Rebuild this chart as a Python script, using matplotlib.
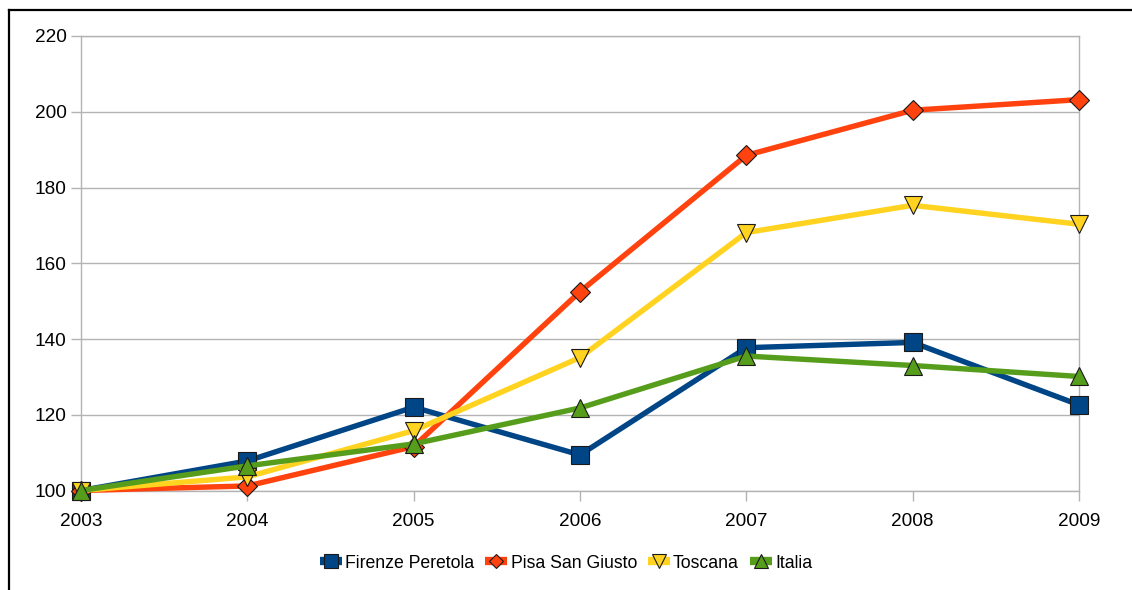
import matplotlib.pyplot as plt
from matplotlib.lines import Line2D

plt.rcParams['font.family'] = ['Liberation Sans', 'DejaVu Sans']

years = [2003, 2004, 2005, 2006, 2007, 2008, 2009]
firenze = [100, 107.8, 122.0, 109.4, 137.7, 139.1, 122.6]
pisa = [100, 101.2, 111.6, 152.5, 188.5, 200.4, 203.2]
toscana = [100, 103.6, 115.8, 135.1, 168.1, 175.3, 170.3]
italia = [100, 106.5, 112.3, 121.8, 135.5, 133.0, 130.1]

series = [
    ('Firenze Peretola', firenze, '#004586', 's', 13),
    ('Pisa San Giusto', pisa, '#ff420e', 'D', 10),
    ('Toscana', toscana, '#ffd320', 'v', 13),
    ('Italia', italia, '#579d1c', '^', 13),
]

W, H = 1132, 590
fig = plt.figure(figsize=(W / 100, H / 100), dpi=100)
ax = fig.add_axes([81 / W, 1 - 490.5 / H, (1079 - 81) / W, (490.5 - 36) / H])

handles, labels = [], []
for name, vals, col, mk, ms in series:
    ax.plot(years, vals, color=col, lw=3.9, marker=mk, ms=ms,
            markeredgecolor='#1a1a1a', markeredgewidth=0.8,
            clip_on=False, zorder=3)
    # legend key: a thick colour bar with the marker on top
    bar = Line2D([], [], color=col, lw=6, solid_capstyle='butt')
    dot = Line2D([], [], ls='none', marker=mk, ms=ms * 0.75, color=col,
                 markeredgecolor='#1a1a1a', markeredgewidth=0.8)
    handles.append((bar, dot))
    labels.append(name)

ax.set_xlim(2003, 2009)
ax.set_ylim(100, 220)
ax.set_xticks(years)
ax.set_yticks(range(100, 221, 20))
ax.grid(axis='y', color='#b3b3b3', lw=1)
ax.set_axisbelow(True)
for sp in ax.spines.values():
    sp.set_color('#b3b3b3')
    sp.set_linewidth(1)
ax.tick_params(colors='#b3b3b3', labelcolor='black', labelsize=13.7,
               length=7, width=1)
ax.tick_params(axis='x', pad=9.5)

ax.legend(handles, labels, loc='center', bbox_to_anchor=(0.5, 1 - 563 / H),
          bbox_transform=fig.transFigure, ncol=4, frameon=False,
          fontsize=12.7, handlelength=1.25, handletextpad=0.2,
          columnspacing=0.6)

# black frame on the top and left edges
fig.add_artist(Line2D([9 / W, 9 / W], [0, 1 - 10 / H], color='black',
                      lw=1.6, transform=fig.transFigure))
fig.add_artist(Line2D([9 / W, 1], [1 - 10 / H, 1 - 10 / H], color='black',
                      lw=1.6, transform=fig.transFigure))

fig.savefig('out.png', dpi=100)
